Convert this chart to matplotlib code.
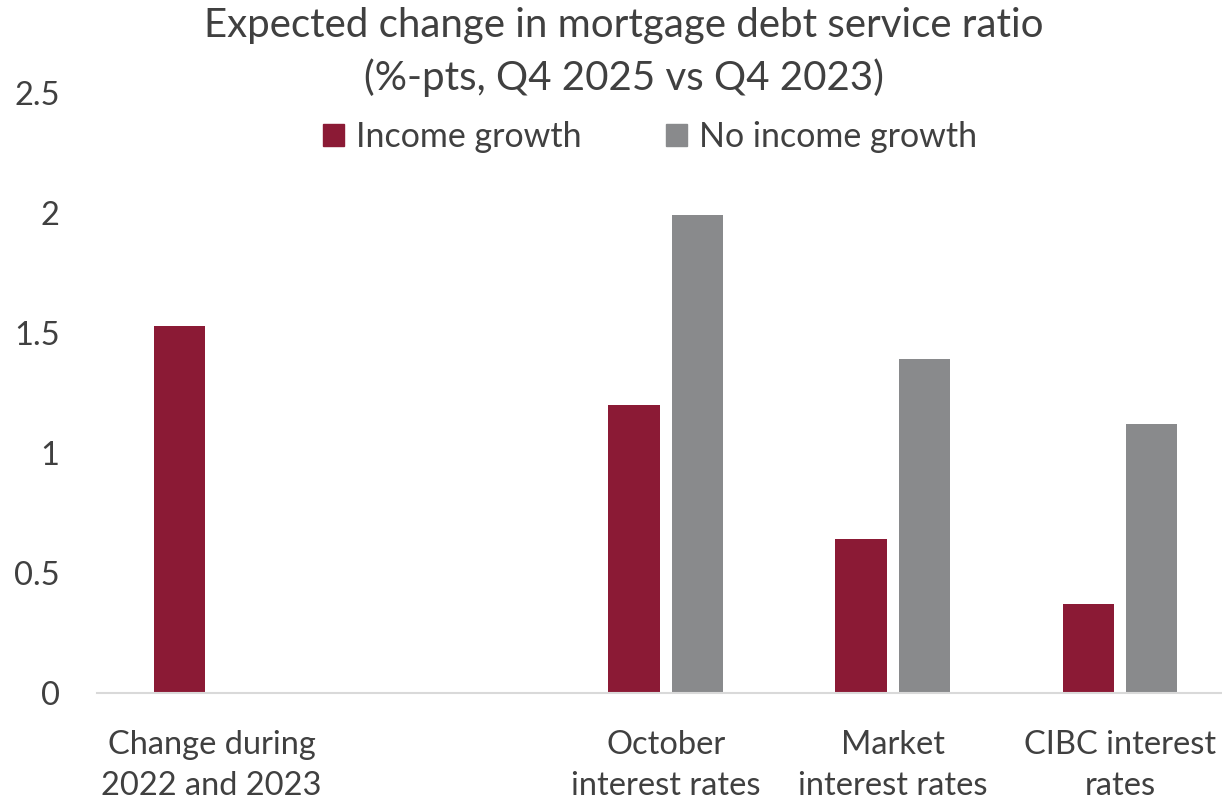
import matplotlib
matplotlib.use("Agg")
import matplotlib.pyplot as plt
import numpy as np
from matplotlib.patches import Patch

categories = ["Change during\n2022 and 2023", "", "October\ninterest rates", "Market\ninterest rates", "CIBC interest\nrates"]
income_growth = [1.53, np.nan, 1.20, 0.64, 0.37]
no_income_growth = [np.nan, np.nan, 1.99, 1.39, 1.12]
series_names = ["Income growth", "No income growth"]
yticks = [0, 0.5, 1, 1.5, 2, 2.5]
ytick_labels = ["0", "0.5", "1", "1.5", "2", "2.5"]

RED = "#8B1A35"
GRAY = "#898A8C"
TXT = "#404040"

plt.rcParams['font.family'] = ['Lato', 'DejaVu Sans']

W, H = 1222, 807
fig = plt.figure(figsize=(W/100, H/100), dpi=100)
left, right, bottom, top = 97, 1222, 807-693, 807-93
ax = fig.add_axes([left/W, bottom/H, (right-left)/W, (top-bottom)/H])

x = np.arange(len(categories))
bw = 0.225
ax.bar(x - 0.14, income_growth, bw, color=RED, zorder=2)
ax.bar(x + 0.14, no_income_growth, bw, color=GRAY, zorder=2)

ax.set_xlim(-0.505, 4.45)
ax.set_ylim(0, 2.5)
ax.set_yticks(yticks)
ax.set_yticklabels(ytick_labels)
ax.set_xticks(x)
ax.set_xticklabels(categories, linespacing=1.45)
ax.tick_params(axis='both', length=0, labelsize=23.5, colors=TXT)
ax.tick_params(axis='y', pad=27)
ax.tick_params(axis='x', pad=27)
for s in ['top', 'right', 'left']:
    ax.spines[s].set_visible(False)
ax.spines['bottom'].set_color('#D9D9D9')
ax.spines['bottom'].set_linewidth(1.5)

fig.text(624/W, 1 - 25/H, "Expected change in mortgage debt service ratio", ha='center', va='center', fontsize=29, color=TXT)
fig.text(624/W, 1 - 78/H, "(%-pts, Q4 2025 vs Q4 2023)", ha='center', va='center', fontsize=29, color=TXT)

handles = [Patch(color=RED), Patch(color=GRAY)]
fig.legend(handles, series_names, loc='center', bbox_to_anchor=(650/W, 1 - 137/H), ncol=2, frameon=False,
           fontsize=24.5, labelcolor=TXT, handlelength=0.6, handleheight=0.6, handletextpad=0.35, columnspacing=2.5)

fig.savefig("out.png", dpi=100)
